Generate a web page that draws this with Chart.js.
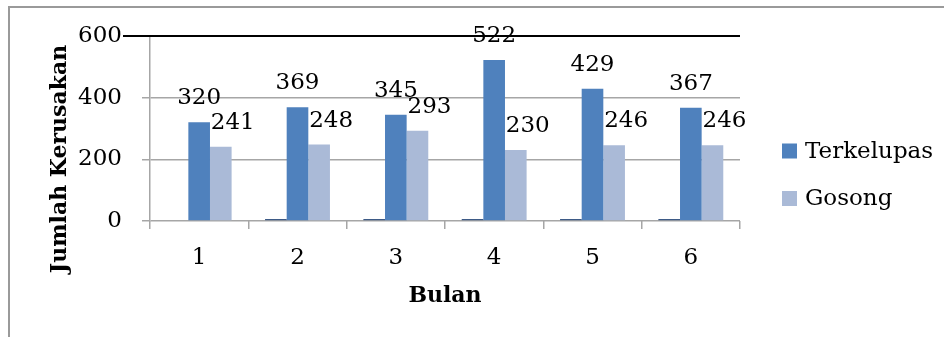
<!DOCTYPE html>
<html>
<head>
<meta charset="utf-8">
<script src="https://cdn.jsdelivr.net/npm/chart.js@4/dist/chart.umd.min.js"></script>
<style>
  html, body { margin: 0; padding: 0; background: #ffffff; }
  #wrap { position: relative; width: 944px; height: 337px; }
</style>
</head>
<body>
<div id="wrap"><canvas id="c" width="944" height="337"></canvas></div>
<script>
// Monthly damage counts
const bulan = ['1', '2', '3', '4', '5', '6'];
const terkelupas = [320, 369, 345, 522, 429, 367];
const gosong = [241, 248, 293, 230, 246, 246];
const kosong = [null, 0, 0, 0, 0, 0];   // empty third series, shows as a stub on the base line
const yTicks = [0, 200, 400, 600];

const serif = '"DejaVu Serif", "Liberation Serif", serif';
const textSize = 23;
const gridGray = '#a6a6a6';
const blue = '#4f81bd';
const lightBlue = '#aabad7';

// Frame, black top rule, value labels, legend and axis titles
const decor = {
  id: 'decor',
  beforeDraw(chart) {
    const ctx = chart.ctx;
    ctx.save();
    ctx.fillStyle = '#ffffff';
    ctx.fillRect(0, 0, chart.width, chart.height);
    ctx.strokeStyle = '#9a9a9a';
    ctx.lineWidth = 2;
    ctx.beginPath();
    ctx.moveTo(9, chart.height + 2);
    ctx.lineTo(9, 7);
    ctx.lineTo(chart.width + 2, 7);
    ctx.stroke();
    ctx.restore();
  },
  afterDraw(chart) {
    const ctx = chart.ctx;
    const area = chart.chartArea;
    const ys = chart.scales.y;
    ctx.save();
    // black rule at the top value
    const yTop = ys.getPixelForValue(600);
    ctx.strokeStyle = '#000000';
    ctx.lineWidth = 2;
    ctx.beginPath();
    ctx.moveTo(area.left - 27, yTop);
    ctx.lineTo(area.right, yTop);
    ctx.stroke();

    // value labels
    ctx.font = textSize + 'px ' + serif;
    ctx.fillStyle = '#000000';
    ctx.textAlign = 'center';
    ctx.textBaseline = 'alphabetic';
    [[1, 0], [2, 12]].forEach(([di, dx]) => {
      const meta = chart.getDatasetMeta(di);
      const vals = chart.data.datasets[di].data;
      meta.data.forEach((bar, i) => {
        ctx.fillText(String(vals[i]), bar.x + dx, bar.y - 18);
      });
    });

    // legend
    const items = [['Terkelupas', blue], ['Gosong', lightBlue]];
    ctx.textAlign = 'left';
    ctx.textBaseline = 'middle';
    items.forEach(([txt, col], k) => {
      const cy = 151 + k * 47.5;
      ctx.fillStyle = col;
      ctx.fillRect(782, cy - 7.5, 15, 15);
      ctx.fillStyle = '#000000';
      ctx.fillText(txt, 805, cy + 1);
    });

    // axis titles
    ctx.font = 'bold 22px ' + serif;
    ctx.textAlign = 'center';
    ctx.textBaseline = 'middle';
    ctx.fillText('Bulan', (area.left + area.right) / 2, 296);
    ctx.translate(60, 159);
    ctx.rotate(-Math.PI / 2);
    ctx.fillText('Jumlah Kerusakan', 0, 0);
    ctx.restore();
  }
};

new Chart(document.getElementById('c'), {
  type: 'bar',
  data: {
    labels: bulan,
    datasets: [
      { label: '', data: kosong, backgroundColor: '#3d5a86', minBarLength: 2 },
      { label: 'Terkelupas', data: terkelupas, backgroundColor: blue },
      { label: 'Gosong', data: gosong, backgroundColor: lightBlue }
    ]
  },
  options: {
    responsive: false,
    animation: false,
    events: [],
    layout: { padding: { left: 0, right: 204, top: 36, bottom: 0 } },
    datasets: { bar: { categoryPercentage: 0.66, barPercentage: 1.0 } },
    plugins: { legend: { display: false }, tooltip: { enabled: false } },
    scales: {
      x: {
        offset: true,
        grid: {
          offset: true,
          drawOnChartArea: false,
          drawTicks: true,
          tickLength: 8,
          color: gridGray,
          lineWidth: 1.5
        },
        border: { display: false },
        ticks: { font: { family: serif, size: textSize }, color: '#000000', padding: 15 },
        afterFit(scale) { scale.height = 337 - 221; }
      },
      y: {
        min: 0,
        max: 600,
        afterBuildTicks(scale) { scale.ticks = yTicks.map(v => ({ value: v })); },
        grid: {
          color: ctx => ctx.tick && ctx.tick.value === 600 ? '#000000' : gridGray,
          lineWidth: ctx => ctx.tick && ctx.tick.value === 600 ? 2 : 1.5,
          tickLength: 8
        },
        border: { display: true, color: gridGray, width: 1.5 },
        ticks: { font: { family: serif, size: textSize }, color: '#000000', padding: 20 },
        afterFit(scale) { scale.width = 150; }
      }
    }
  },
  plugins: [decor]
});
</script>
</body>
</html>
